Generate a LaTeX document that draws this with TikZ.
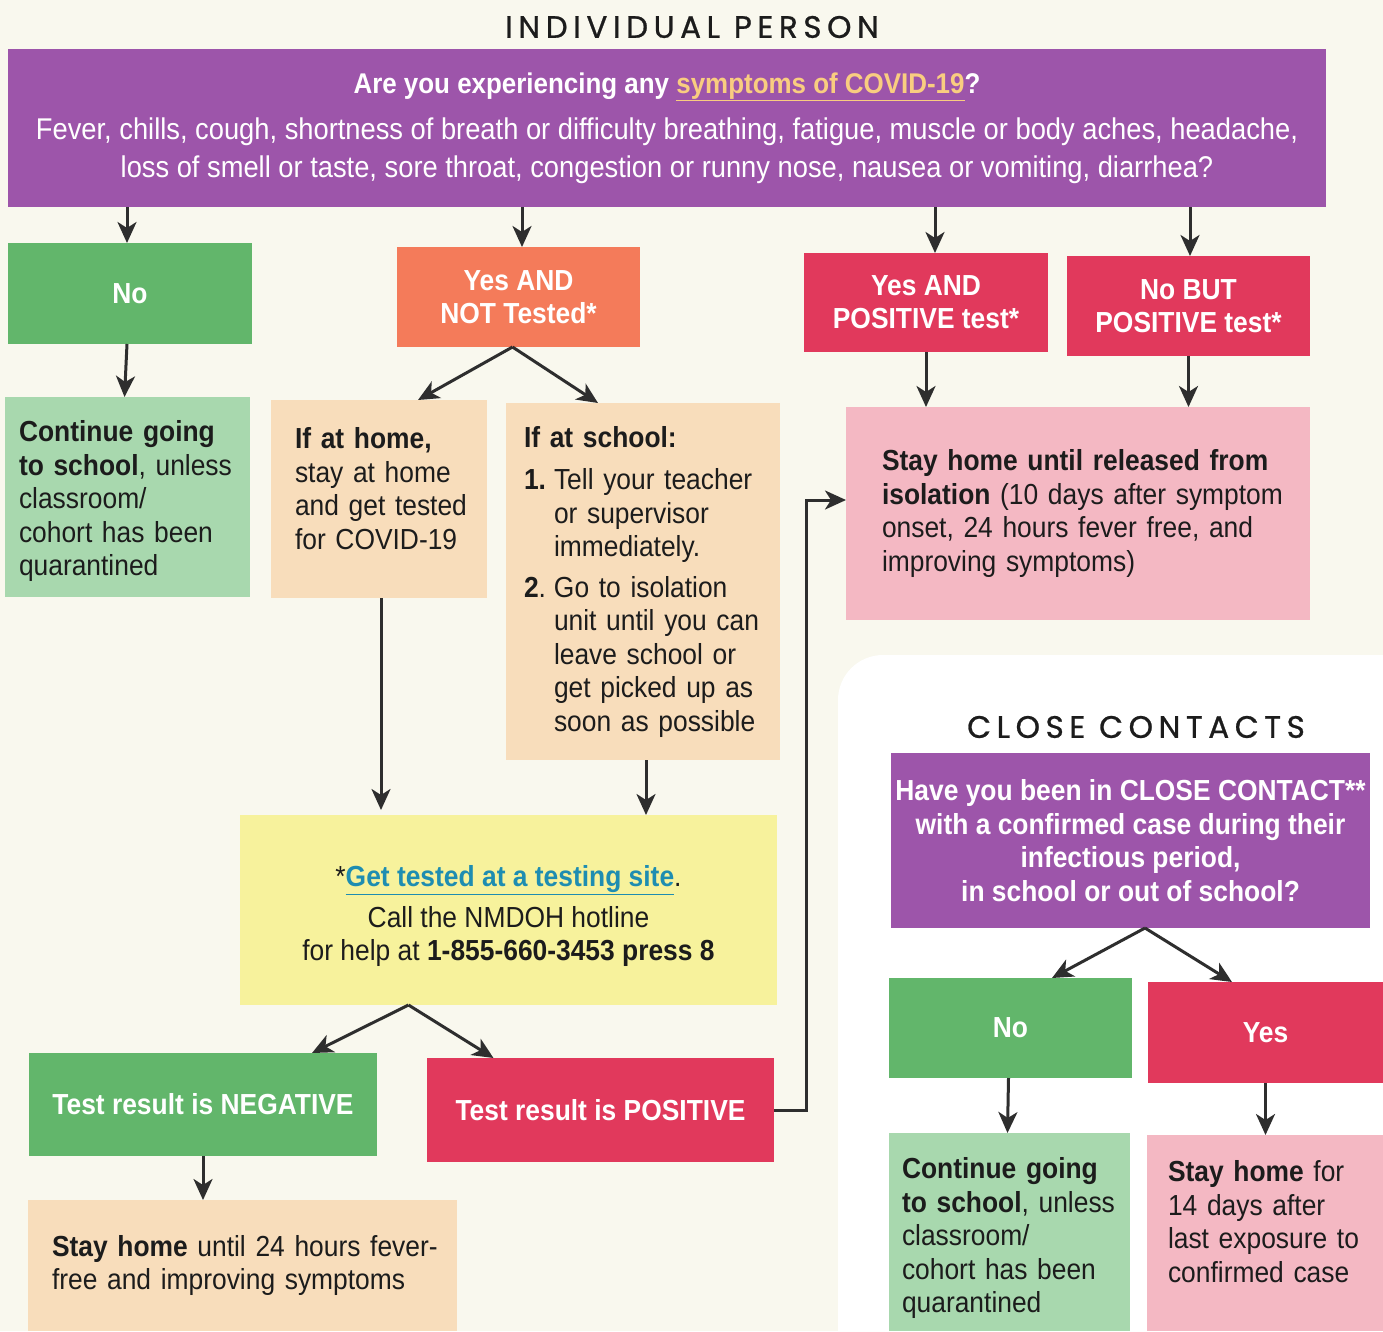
\documentclass[tikz,border=0pt]{standalone}
\usepackage{fontspec}
\setmainfont[FakeStretch=0.91]{Liberation Sans}
\newfontfamily\ttlfont[LetterSpace=18, FakeBold=0.8]{Poppins}
\usetikzlibrary{arrows.meta}
\definecolor{bg}{HTML}{F9F8EE}
\definecolor{purp}{HTML}{9D55AA}
\definecolor{grn}{HTML}{62B66B}
\definecolor{lgrn}{HTML}{A8D8AE}
\definecolor{orng}{HTML}{F47B5A}
\definecolor{crim}{HTML}{E1395C}
\definecolor{pinkbox}{HTML}{F4B8C3}
\definecolor{peach}{HTML}{F8DDBB}
\definecolor{yel}{HTML}{F7F29C}
\definecolor{linky}{HTML}{F9CD80}
\definecolor{linkb}{HTML}{1E8DB1}
\definecolor{ink}{HTML}{1C1C1C}
\definecolor{arrc}{HTML}{2E2E2E}
\newcommand{\lmar}[1]{\leftskip=#1\relax\hyphenpenalty=10000\relax}
\tikzset{
  box/.style={inner sep=0pt, outer sep=0pt, draw=none},
  head/.style={box, text=white, font=\fontsize{29}{33}\selectfont\bfseries, align=center},
  body/.style={box, text=ink, font=\fontsize{29}{33.5}\selectfont, align=left},
  ttl/.style={inner sep=0pt, text=ink, font=\fontsize{31}{34}\selectfont\ttlfont},
  arr/.style={draw=arrc, line width=3pt, -{Stealth[length=21pt,width=19pt,inset=6pt]}},
}
\begin{document}
\begin{tikzpicture}[x=1pt,y=-1pt]
\useasboundingbox (0,0) rectangle (1383,1331);
\fill[bg] (0,0) rectangle (1383,1331);
\fill[white, rounded corners=45pt] (838,655) rectangle (1440,1390);

% titles
\node[ttl] (t1) at (692,27) {INDIVIDUAL PERSON};
\node[ttl] (t2) at (1136,727) {CLOSE CONTACTS};

% top question
\node[box, fill=purp, minimum width=1318, minimum height=158, text=white, align=center,
      font=\fontsize{30}{37.5}\selectfont] (top) at (667,128)
 {{\fontsize{28.5}{37.5}\selectfont\textbf{Are you experiencing any \textcolor{linky}{\underline{symptoms of COVID-19}}?}}\\[9pt]
  Fever, chills, cough, shortness of breath or difficulty breathing, fatigue, muscle or body aches, headache,\\
  loss of smell or taste, sore throat, congestion or runny nose, nausea or vomiting, diarrhea?};

% first level
\node[head, fill=grn, minimum width=244, minimum height=101] (no) at (130,293.5) {No};
\node[head, fill=orng, minimum width=243, minimum height=100] (nt) at (518.5,297) {Yes AND\\NOT Tested*};
\node[head, fill=crim, minimum width=244, minimum height=99] (yp) at (926,302.5) {Yes AND\\POSITIVE test*};
\node[head, fill=crim, minimum width=243, minimum height=100] (nbp) at (1188.5,306) {No BUT\\POSITIVE test*};

% second level
\node[body, fill=lgrn, minimum width=245, minimum height=200, text width=245pt] (cont) at (127.5,497)
 {\lmar{14pt}\mbox{}\\[-4.5pt]\textbf{Continue going}\\\textbf{to school}, unless\\classroom/\\cohort has been\\quarantined\par};
\node[body, fill=peach, minimum width=216, minimum height=198, text width=216pt] (home) at (379,499)
 {\lmar{24pt}\textbf{If at home,}\\stay at home\\and get tested\\for COVID-19\\[-12pt]\mbox{}\par};
\node[body, fill=peach, minimum width=274, minimum height=357, text width=274pt] (school) at (643,581.5)
 {\lmar{18pt}\textbf{If at school:}\\[9pt]
  \makebox[30pt][l]{\textbf{1.}}Tell your teacher\\
  \hspace*{30pt}or supervisor\\
  \hspace*{30pt}immediately.\\[7pt]
  \makebox[30pt][l]{\textbf{2}.}Go to isolation\\
  \hspace*{30pt}unit until you can\\
  \hspace*{30pt}leave school or\\
  \hspace*{30pt}get picked up as\\
  \hspace*{30pt}soon as possible\par};
\node[body, fill=pinkbox, minimum width=464, minimum height=213, text width=464pt] (released) at (1078,513.5)
 {\lmar{36pt}\textbf{Stay home until released from}\\\textbf{isolation} (10 days after symptom\\onset, 24 hours fever free, and\\improving symptoms)\par};

% testing
\node[box, fill=yel, minimum width=537, minimum height=190, text=ink, align=center,
      font=\fontsize{29}{33.5}\selectfont] (yellow) at (508.5,910)
 {\mbox{}\\*\textcolor{linkb}{\textbf{\underline{Get tested at a testing site}}}.\\[7pt]
  Call the NMDOH hotline\\for help at \textbf{1-855-660-3453 press 8}};

\node[head, fill=grn, minimum width=348, minimum height=103] (neg) at (203,1104.5) {Test result is NEGATIVE};
\node[head, fill=crim, minimum width=347, minimum height=104] (pos) at (600.5,1110) {Test result is POSITIVE};
\node[body, fill=peach, minimum width=429, minimum height=131, text width=429pt] (stay24) at (242.5,1265.5)
 {\lmar{24pt}\textbf{Stay home} until 24 hours fever-\\free and improving symptoms\par};

% close contacts
\node[box, fill=purp, minimum width=479, minimum height=175, text=white, align=center,
      font=\fontsize{29}{33.5}\selectfont\bfseries] (cctop) at (1130.5,840.5)
 {Have you been in CLOSE CONTACT**\\with a confirmed case during their\\infectious period,\\in school or out of school?};
\node[head, fill=grn, minimum width=243, minimum height=100] (ccno) at (1010.5,1028) {No};
\node[head, fill=crim, minimum width=235, minimum height=101] (ccyes) at (1265.5,1032.5) {Yes};
\node[body, fill=lgrn, minimum width=241, minimum height=198, text width=241pt] (cccont) at (1009.5,1232)
 {\lmar{13pt}\mbox{}\\\textbf{Continue going}\\\textbf{to school}, unless\\classroom/\\cohort has been\\quarantined\par};
\node[body, fill=pinkbox, minimum width=236, minimum height=196, text width=236pt] (stay14) at (1265,1233)
 {\lmar{21pt}\textbf{Stay home} for\\14 days after\\last exposure to\\confirmed case\\[-10pt]\mbox{}\par};

% connectors
\coordinate (a1) at ([xshift=-3pt]no.north);
\coordinate (a2) at ([xshift=3.5pt]nt.north);
\coordinate (a3) at ([xshift=9pt]yp.north);
\coordinate (a4) at ([xshift=1.5pt]nbp.north);
\draw[arr] (a1 |- top.south) -- (a1);
\draw[arr] (a2 |- top.south) -- (a2);
\draw[arr] (a3 |- top.south) -- (a3);
\draw[arr] (a4 |- top.south) -- (a4);

\draw[arr] ([xshift=-3pt]no.south) -- ([xshift=-3pt]cont.north);
\draw[arr] ([xshift=-6pt]nt.south) -- ([xshift=39pt]home.north);
\draw[arr] ([xshift=-6pt]nt.south) -- ([xshift=-45pt]school.north);
\draw[arr] (yp.south) -- (yp.south |- released.north);
\draw[arr] (nbp.south) -- (nbp.south |- released.north);

\draw[arr, shorten >=5pt] ([xshift=2pt]home.south) -- ([xshift=2pt]home.south |- yellow.north);
\draw[arr] ([xshift=3pt]school.south) -- ([xshift=3pt]school.south |- yellow.north);

\draw[arr] ([xshift=-100pt]yellow.south) -- ([xshift=109pt]neg.north);
\draw[arr] ([xshift=-100pt]yellow.south) -- ([xshift=-107pt]pos.north);
\draw[arr] (neg.south) -- (neg.south |- stay24.north);
\draw[arr] (pos.east) -- ++(32,0) |- ([yshift=13.5pt]released.west);

\draw[arr] ([xshift=14.5pt]cctop.south) -- ([xshift=41.5pt]ccno.north);
\draw[arr] ([xshift=14.5pt]cctop.south) -- ([xshift=-33.5pt]ccyes.north);
\draw[arr] ([xshift=-2pt]ccno.south) -- ([xshift=-2pt]cccont.north);
\draw[arr] (ccyes.south) -- (ccyes.south |- stay14.north);
\end{tikzpicture}
\end{document}
